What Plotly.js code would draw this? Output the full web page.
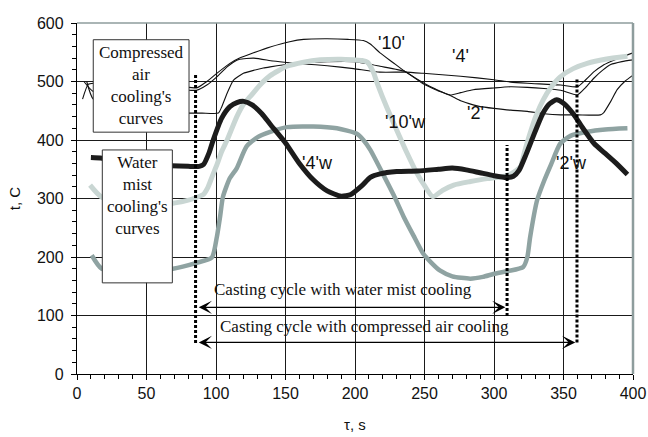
<!DOCTYPE html>
<html><head><meta charset="utf-8">
<script src="https://cdn.plot.ly/plotly-3.0.1.min.js"></script>
<style>html,body{margin:0;padding:0;background:#fff;}#chart{width:648px;height:437px;}</style>
</head><body><div id="chart"></div>
<script>
// Compressed air cooling curves (thin black)
const air10_x = [4, 8, 12, 40, 80.6, 86, 93.4, 100.6, 110, 117, 127, 139, 153, 163, 180, 195, 206, 211, 218, 227, 236, 249, 258, 268.5, 276, 285, 300, 312, 324, 336, 348, 360, 366, 372, 378, 384, 392, 400];
const air10_y = [470, 495, 497, 492, 490, 489, 500, 514, 531, 540, 549, 559, 568, 572, 573, 572, 570, 564, 549, 533, 517, 498, 487, 477, 481, 486, 489, 491, 490, 488, 485, 477, 490, 506, 519, 529, 534, 537];
const air4_x = [5, 11.7, 40, 80.6, 86, 93.4, 100.6, 108, 112.5, 117, 127, 141, 153, 163, 180, 199, 218, 236, 249, 276, 300, 312, 324, 348, 360, 366, 372, 378, 384, 392, 400];
const air4_y = [500, 483, 484, 485, 485, 494, 508, 525, 533, 538, 540, 535, 532, 530, 527, 522, 516, 516, 514, 509, 503, 499, 497, 494, 491, 503, 517, 527, 534, 542, 549];
const air2_x = [7, 11.7, 40, 80.6, 90, 101.7, 104, 108, 112.5, 119.7, 127, 134, 139, 153, 163, 180, 199, 210, 218, 236, 249, 258, 268.5, 276, 285, 290, 300, 312, 324, 336, 348, 360, 376.5, 379, 384, 388.6, 394, 400];
const air2_y = [500, 470, 452, 446, 446, 446, 456, 480, 502, 514, 519, 523, 525, 530, 532, 534, 534, 530, 526, 517, 496, 486, 476, 467, 460, 457, 454, 451, 449, 445, 443, 443, 443, 447, 466, 486, 500, 511];
// Water mist cooling curves (thick)
const mist4w_x = [10, 18, 40, 68, 80, 88, 91, 95, 98, 104, 110, 115, 120, 126, 133, 139, 150, 160, 170, 180, 190, 197, 205, 211, 218, 230, 245, 260, 270, 280, 290, 300, 309, 314, 318, 323, 328, 335, 340, 345, 350, 357, 364, 372, 380, 388, 396];
const mist4w_y = [370, 369, 362, 356, 355, 355, 358, 378, 400, 437, 457, 464, 466, 460, 445, 427, 395, 360, 332, 313, 304, 307, 322, 336, 342, 346, 347, 350, 352, 349, 344, 339, 336, 338, 348, 375, 405, 445, 462, 469, 463, 445, 420, 394, 377, 360, 341];
const mist10w_x = [9.4, 18, 40, 69, 78, 84, 91, 94, 96, 98, 101, 104, 108, 115, 120, 124.5, 132, 139, 151, 163, 175, 190, 199, 205, 209, 213, 216, 223, 230, 237, 244.6, 250, 256, 263, 271, 283, 295, 305, 311, 316, 319, 322, 326, 330, 335.5, 341, 347.7, 357, 367, 380, 396];
const mist10w_y = [323, 302, 292, 292, 296, 300, 307, 318, 330, 342, 360, 380, 400, 440, 462, 474, 495, 510, 526, 533, 537, 538, 537, 536, 533, 517, 497, 455, 417, 380, 343, 322, 303, 314, 323, 329, 334, 337, 341, 348, 354, 380, 412, 440, 469, 490, 508, 522, 531, 538, 543];
const mist2w_x = [10.6, 17.8, 40, 69, 86, 97, 100.6, 103, 105, 110, 115, 122, 130, 139, 151, 170, 187, 201, 206, 211, 220.5, 228, 235, 242, 249, 255, 261, 270, 283, 292, 299.6, 310, 321, 324, 326, 331, 336, 341, 347.7, 355, 367, 380, 396];
const mist2w_y = [203, 180, 176, 180, 190, 199, 234, 270, 303, 335, 352, 389, 405, 414, 422, 423, 420, 411, 400, 383, 340, 305, 269, 237, 206, 190, 177, 167, 163, 166, 171, 176, 183, 200, 234, 297, 330, 358, 394, 407, 414, 418, 420];
// Axis ticks
const xTicks = [0, 50, 100, 150, 200, 250, 300, 350, 400];
const yTicks = [0, 100, 200, 300, 400, 500, 600];
// Curve labels
const labelText = ["'10'", "'4'", "'2'", "'10'w", "'4'w", "'2'w"];
const labelX = [226.6, 276, 287, 236, 173, 356];
const labelY = [566, 543, 446, 431, 360, 360];
// Cycle markers (time, s)
const cycleStart = 85.3;
const mistCycleEnd = 309.4;
const airCycleEnd = 359.7;

const thin = (x, y) => ({x, y, type: 'scatter', mode: 'lines', line: {color: '#111', width: 1.1, shape: 'spline', smoothing: 0.5}, hoverinfo: 'skip'});
const thick = (x, y, c, w) => ({x, y, type: 'scatter', mode: 'lines', line: {color: c, width: w, shape: 'spline', smoothing: 0.6}, hoverinfo: 'skip'});

const data = [
  thin(air10_x, air10_y), thin(air4_x, air4_y), thin(air2_x, air2_y),
  thick(mist2w_x, mist2w_y, '#8fa3a2', 4.5),
  thick(mist10w_x, mist10w_y, '#c9d6d3', 5),
  thick(mist4w_x, mist4w_y, '#1c1c1c', 5)
];

const serif = 'Liberation Serif, Times New Roman, serif';
const sans = 'Liberation Sans, Arial, sans-serif';

const annotations = labelText.map((t, i) => ({x: labelX[i], y: labelY[i], text: t, showarrow: false, font: {family: sans, size: 18, color: '#111'}}));
annotations.push(
  {x: 46.2, y: 493.5, text: "Compressed<br>air<br>cooling's<br>curves", showarrow: false, font: {family: serif, size: 17, color: '#111'}},
  {x: 43.4, y: 305.5, text: "Water<br>mist<br>cooling's<br>curves", showarrow: false, font: {family: serif, size: 17, color: '#111'}},
  {x: 191.4, y: 145, text: 'Casting cycle with water mist cooling', showarrow: false, font: {family: serif, size: 17, color: '#111'}},
  {x: 206.8, y: 81.7, text: 'Casting cycle with compressed air cooling', showarrow: false, font: {family: serif, size: 17, color: '#111'}},
  {x: mistCycleEnd - 1.2, y: 114, ax: cycleStart + 1.2, ay: 114, axref: 'x', ayref: 'y', xref: 'x', yref: 'y', text: '', showarrow: true, arrowhead: 3, startarrowhead: 3, arrowside: 'end+start', arrowsize: 1.7, startarrowsize: 1.7, arrowwidth: 1.3, arrowcolor: '#000'},
  {x: airCycleEnd - 1.2, y: 54, ax: cycleStart + 1.2, ay: 54, axref: 'x', ayref: 'y', xref: 'x', yref: 'y', text: '', showarrow: true, arrowhead: 3, startarrowhead: 3, arrowside: 'end+start', arrowsize: 1.7, startarrowsize: 1.7, arrowwidth: 1.3, arrowcolor: '#000'}
);

const dotLine = (x, y0, y1) => ({type: 'line', xref: 'x', yref: 'y', x0: x, x1: x, y0, y1, line: {color: '#000', width: 3, dash: '3px,2px'}, layer: 'above'});
const shapes = [
  {type: 'rect', xref: 'x', yref: 'y', x0: 11.7, x1: 80.6, y0: 413.4, y1: 571.4, fillcolor: '#fff', line: {color: '#333', width: 1}, layer: 'above'},
  {type: 'rect', xref: 'x', yref: 'y', x0: 18.2, x1: 68.6, y0: 155.8, y1: 383, fillcolor: '#fff', line: {color: '#333', width: 1}, layer: 'above'},
  dotLine(cycleStart, 53, 511),
  dotLine(mistCycleEnd, 99, 391.6),
  dotLine(airCycleEnd, 54, 504.6),
  {type: 'line', xref: 'paper', yref: 'paper', x0: 0, x1: 1, y0: 1, y1: 1, line: {color: '#8e9d9d', width: 1.5}, layer: 'above'},
  {type: 'line', xref: 'paper', yref: 'paper', x0: 1, x1: 1, y0: 0, y1: 1, line: {color: '#8e9d9d', width: 2.5}, layer: 'above'}
];

const layout = {
  width: 648, height: 437,
  margin: {l: 77, r: 15, t: 23, b: 63},
  paper_bgcolor: '#fff', plot_bgcolor: '#fff',
  showlegend: false, hovermode: false,
  font: {family: sans, size: 16, color: '#111'},
  xaxis: {
    range: [0, 400], tickvals: xTicks, ticktext: xTicks.map(String),
    showgrid: true, gridcolor: '#1a1a1a', gridwidth: 1, zeroline: false,
    showline: true, linecolor: '#000', linewidth: 1.2,
    ticks: 'outside', ticklen: 5, tickcolor: '#000',
    minor: {dtick: 10, ticks: 'outside', ticklen: 4, tickcolor: '#000', showgrid: false},
    tickfont: {family: sans, size: 16, color: '#111'},
    title: {text: 'τ, s', font: {family: sans, size: 15, color: '#111'}, standoff: 18},
    fixedrange: true
  },
  yaxis: {
    range: [0, 600], tickvals: yTicks, ticktext: yTicks.map(String),
    showgrid: true, gridcolor: '#1a1a1a', gridwidth: 1, zeroline: false,
    showline: true, linecolor: '#000', linewidth: 1.2,
    ticks: 'outside', ticklen: 5, tickcolor: '#000', ticklabelstandoff: 4,
    minor: {dtick: 20, ticks: 'outside', ticklen: 4, tickcolor: '#000', showgrid: false},
    tickfont: {family: sans, size: 16, color: '#111'},
    title: {text: 't, C', font: {family: sans, size: 15, color: '#111'}, standoff: 12},
    fixedrange: true
  },
  shapes, annotations
};

Plotly.newPlot('chart', data, layout, {staticPlot: true, displayModeBar: false});
</script></body></html>
